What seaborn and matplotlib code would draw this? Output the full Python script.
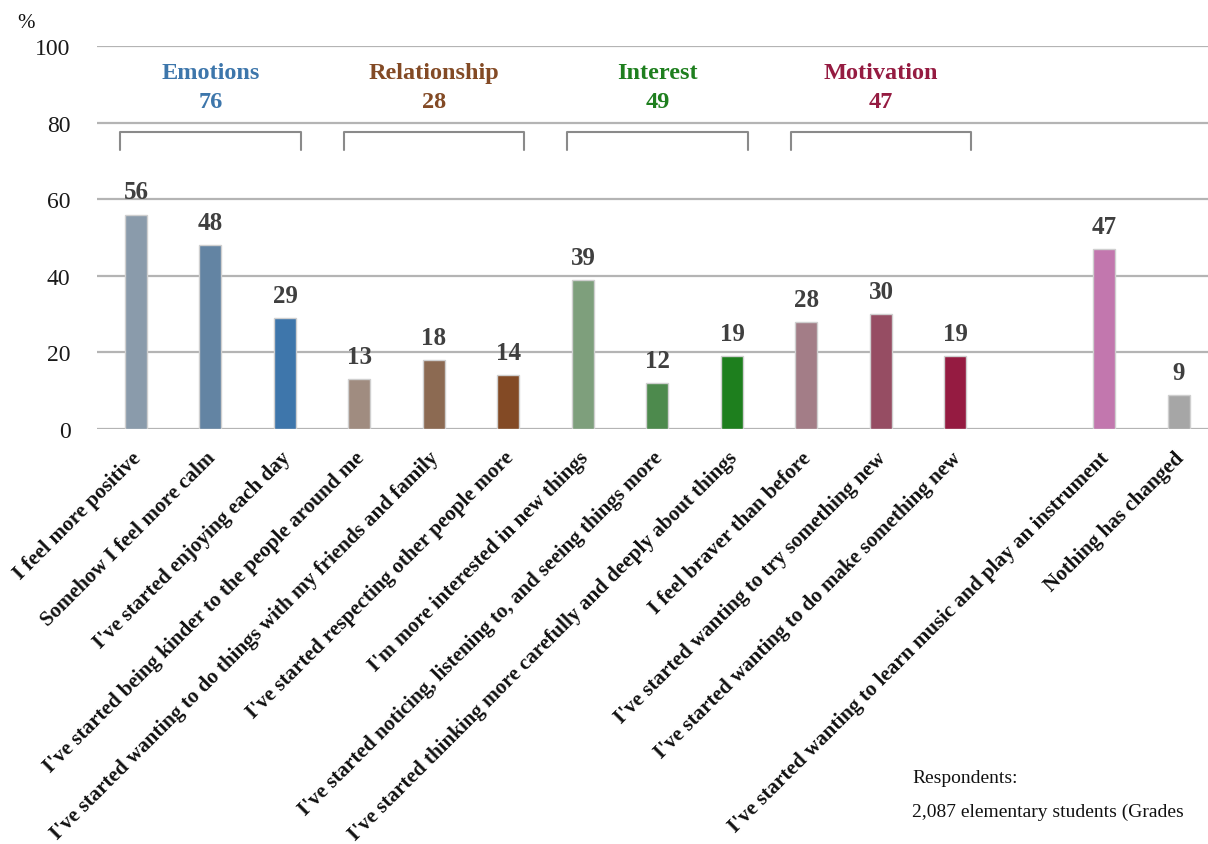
import matplotlib
matplotlib.use("Agg")
import matplotlib.pyplot as plt
import matplotlib.transforms as mtransforms
import seaborn as sns
import pandas as pd

# ----------------------------------------------------------------------
# Data
# ----------------------------------------------------------------------
items = [
    "I feel more positive",
    "Somehow I feel more calm",
    "I've started enjoying each day",
    "I've started being kinder to the people around me",
    "I've started wanting to do things with my friends and family",
    "I've started respecting other people more",
    "I'm more interested in new things",
    "I've started noticing, listening to, and seeing things more",
    "I've started thinking more carefully and deeply about things",
    "I feel braver than before",
    "I've started wanting to try something new",
    "I've started wanting to do make something new",
    "I've started wanting to learn music and play an instrument",
    "Nothing has changed",
]
percent = [56, 48, 29, 13, 18, 14, 39, 12, 19, 28, 30, 19, 47, 9]
bar_colors = [
    "#8a9bab", "#6384a3", "#3e76ab",
    "#a08c80", "#8c6a52", "#834a25",
    "#7e9f7c", "#4d8a4d", "#1e7f1e",
    "#a37d87", "#964d63", "#951b41",
    "#c277ae", "#a6a6a6",
]

groups = ["Emotions", "Relationship", "Interest", "Motivation"]
group_totals = [76, 28, 49, 47]
group_colors = ["#3d76ab", "#834a25", "#1e7f1e", "#951b41"]

GAP = " "  # empty slot between Motivation group and the last two bars
order = items[:12] + [GAP] + items[12:]

df = pd.DataFrame({"item": items, "percent": percent})

# ----------------------------------------------------------------------
# Plot
# ----------------------------------------------------------------------
sns.set_style("white")
plt.rcParams["font.family"] = ["Liberation Serif", "DejaVu Serif"]

fig = plt.figure(figsize=(12.08, 8.45), dpi=100)
ax = fig.add_axes([0.0803, 0.491, 0.9197, 0.4534])

sns.barplot(
    data=df, x="item", y="percent", hue="item", order=order,
    palette=dict(zip(items, bar_colors)), legend=False, saturation=1,
    width=0.295, edgecolor="#cfcfcf", linewidth=1, ax=ax,
)

for cont in ax.containers:
    ax.bar_label(cont, fmt="%d", padding=8, fontsize=18,
                 fontweight="bold", color="#3f3f3f")

ax.set_ylim(0, 100)
ax.set_xlim(-0.523, 14.39)
ax.set_yticks(range(0, 101, 20))
ax.yaxis.grid(True, color="#b4b4b4", linewidth=1.6)
ax.set_axisbelow(True)
ax.tick_params(axis="y", length=0, pad=19, labelsize=17, labelcolor="#1a1a1a")
ax.tick_params(axis="x", length=0, pad=11, labelcolor="#111111")
sns.despine(ax=ax, left=True, bottom=True)
ax.set_xlabel("")
ax.set_ylabel("")

ax.set_xticks(range(len(order)))
ax.set_xticklabels(order, rotation=45, ha="right", va="top",
                   rotation_mode="anchor", fontsize=15.2, fontweight="bold")
shift = mtransforms.ScaledTranslation(-0.05, -0.03, fig.dpi_scale_trans)
for lbl in ax.get_xticklabels():
    lbl.set_transform(lbl.get_transform() + shift)

# group brackets and headers
for i, (name, total, col) in enumerate(zip(groups, group_totals, group_colors)):
    x0, x1 = i * 3 - 0.21, i * 3 + 2.21
    ax.plot([x0, x0, x1, x1], [72.8, 77.5, 77.5, 72.8],
            color="#8a8a8a", linewidth=1.5, solid_joinstyle="round")
    ax.text(i * 3 + 1, 93.2, name, ha="center", va="center",
            fontsize=17.5, fontweight="bold", color=col)
    ax.text(i * 3 + 1, 85.6, str(total), ha="center", va="center",
            fontsize=17.5, fontweight="bold", color=col)

fig.text(0.014, 0.972, "%", fontsize=15, va="center", color="#111111")
fig.text(0.755, 0.079, "Respondents:", fontsize=14, va="center", color="#111111")
fig.text(0.755, 0.039, "2,087 elementary students (Grades", fontsize=14,
         va="center", color="#111111")

fig.savefig("out.png", dpi=100)
